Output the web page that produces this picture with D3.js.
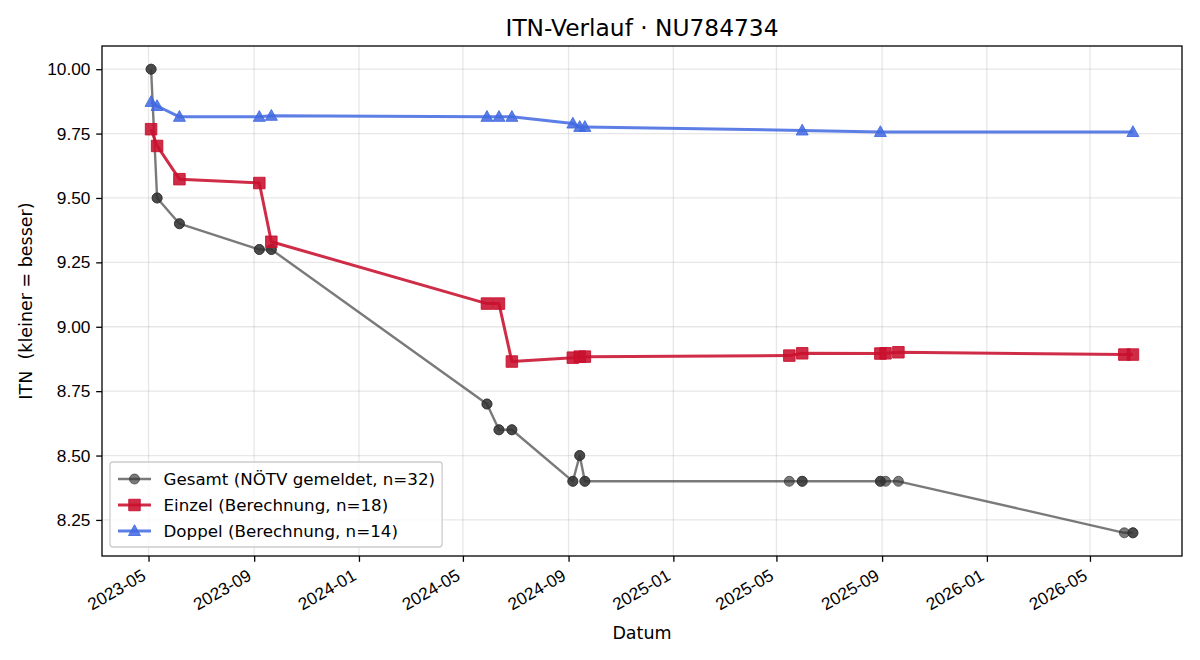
<!DOCTYPE html>
<html>
<head>
<meta charset="utf-8">
<script src="https://cdn.jsdelivr.net/npm/d3@7"></script>
<style>
  body { margin: 0; background: #fff; }
  svg { font-family: "DejaVu Sans", sans-serif; }
</style>
</head>
<body>
<svg id="chart" width="1200" height="660"></svg>
<script>
// data
var gesamtDates = ["2023-05-04","2023-05-04","2023-05-11","2023-05-11","2023-06-06","2023-06-06",
    "2023-09-07","2023-09-07","2023-09-21","2023-09-21","2024-05-29","2024-05-29",
    "2024-06-12","2024-06-12","2024-06-27","2024-06-27","2024-09-06","2024-09-06",
    "2024-09-14","2024-09-14","2024-09-20","2024-09-20","2025-05-16","2025-05-31","2025-05-31",
    "2025-08-30","2025-08-30","2025-09-05","2025-09-20","2026-06-10","2026-06-20","2026-06-20"];
var gesamtValues = [10.0,10.0,9.5,9.5,9.4,9.4,9.3,9.3,9.3,9.3,8.7,8.7,8.6,8.6,8.6,8.6,8.4,8.4,
    8.5,8.5,8.4,8.4,8.4,8.4,8.4,8.4,8.4,8.4,8.4,8.2,8.2,8.2];

var einzelDates = ["2023-05-04","2023-05-11","2023-06-06","2023-09-07","2023-09-21","2024-05-29",
    "2024-06-12","2024-06-27","2024-09-06","2024-09-14","2024-09-20","2025-05-16","2025-05-31",
    "2025-08-30","2025-09-05","2025-09-20","2026-06-10","2026-06-20"];
var einzelValues = [9.767,9.702,9.573,9.558,9.330,9.090,9.090,8.865,8.880,8.884,8.884,8.888,8.897,
    8.896,8.897,8.901,8.892,8.892];

var doppelDates = ["2023-05-04","2023-05-11","2023-06-06","2023-09-07","2023-09-21","2024-05-29",
    "2024-06-12","2024-06-27","2024-09-06","2024-09-14","2024-09-20","2025-05-31","2025-08-30",
    "2026-06-20"];
var doppelValues = [9.873,9.857,9.815,9.815,9.819,9.815,9.815,9.815,9.789,9.776,9.776,9.762,9.756,9.756];

var xTickLabels = ["2023-05","2023-09","2024-01","2024-05","2024-09","2025-01","2025-05","2025-09","2026-01","2026-05"];
var yTickValues = [8.25, 8.50, 8.75, 9.00, 9.25, 9.50, 9.75, 10.00];

var labels = ["Gesamt (NÖTV gemeldet, n=32)", "Einzel (Berechnung, n=18)", "Doppel (Berechnung, n=14)"];

var parse = d3.timeParse("%Y-%m-%d");
var parseMonth = d3.timeParse("%Y-%m");

function zip(ds, vs) {
    return ds.map(function(d, i) { return {date: parse(d), value: vs[i]}; });
}

var series = [
    {name: labels[0], data: zip(gesamtDates, gesamtValues), color: "#333333", alpha: 0.65, lw: 2.4, marker: "circle", size: 10},
    {name: labels[1], data: zip(einzelDates, einzelValues), color: "#c8102e", alpha: 0.88, lw: 3, marker: "square", size: 11.5},
    {name: labels[2], data: zip(doppelDates, doppelValues), color: "#4169e1", alpha: 0.85, lw: 3, marker: "triangle", size: 12}
];

var m = {left: 102, right: 1182, top: 46, bottom: 556};
var svg = d3.select("#chart");

// matplotlib style 5% margins
var allDates = series[0].data.map(function(d) { return d.date; });
var dmin = d3.min(allDates), dmax = d3.max(allDates);
var pad = (dmax - dmin) * 0.05;
var x = d3.scaleTime()
    .domain([new Date(+dmin - pad), new Date(+dmax + pad)])
    .range([m.left, m.right]);

var vmin = 8.2, vmax = 10.0, vpad = (vmax - vmin) * 0.05;
var y = d3.scaleLinear()
    .domain([vmin - vpad, vmax + vpad])
    .range([m.bottom, m.top]);

var xTicks = xTickLabels.map(function(s) { return parseMonth(s); });

// grid
var grid = svg.append("g");
grid.selectAll(".gx").data(xTicks).enter().append("line")
    .attr("x1", function(d) { return x(d); }).attr("x2", function(d) { return x(d); })
    .attr("y1", m.top).attr("y2", m.bottom)
    .attr("stroke", "#b0b0b0").attr("stroke-opacity", 0.3).attr("stroke-width", 1.3);
grid.selectAll(".gy").data(yTickValues).enter().append("line")
    .attr("x1", m.left).attr("x2", m.right)
    .attr("y1", function(d) { return y(d); }).attr("y2", function(d) { return y(d); })
    .attr("stroke", "#b0b0b0").attr("stroke-opacity", 0.3).attr("stroke-width", 1.3);

// axes
var tickFs = "17.3px";
var xAxis = svg.append("g")
    .attr("transform", "translate(0," + m.bottom + ")")
    .call(d3.axisBottom(x).tickValues(xTicks).tickSize(5.8).tickPadding(5.8).tickFormat(d3.timeFormat("%Y-%m")));
xAxis.select(".domain").remove();
xAxis.selectAll("line").attr("stroke", "#000").attr("stroke-width", 1.3);
xAxis.selectAll("text")
    .attr("font-size", tickFs).attr("fill", "#000")
    .attr("text-anchor", "end")
    .attr("dy", null)
    .attr("y", null)
    .attr("transform", "translate(-2,23) rotate(-30)");

var yAxis = svg.append("g")
    .attr("transform", "translate(" + m.left + ",0)")
    .call(d3.axisLeft(y).tickValues(yTickValues).tickSize(5.8).tickPadding(5.8).tickFormat(d3.format(".2f")));
yAxis.select(".domain").remove();
yAxis.selectAll("line").attr("stroke", "#000").attr("stroke-width", 1.3);
yAxis.selectAll("text").attr("font-size", tickFs).attr("fill", "#000");

// series
var line = d3.line()
    .x(function(d) { return x(d.date); })
    .y(function(d) { return y(d.value); });

function markerPath(type, s) {
    if (type === "circle") return d3.symbol().type(d3.symbolCircle).size(Math.PI * s * s / 4)();
    if (type === "square") return "M" + (-s/2) + "," + (-s/2) + "h" + s + "v" + s + "h" + (-s) + "Z";
    var r = s / 2;
    return "M0," + (-r * 1.05) + "L" + (r) + "," + (r * 0.75) + "L" + (-r) + "," + (r * 0.75) + "Z";
}

var plot = svg.append("g");
series.forEach(function(s) {
    var g = plot.append("g");
    g.append("path")
        .datum(s.data)
        .attr("d", line)
        .attr("fill", "none")
        .attr("stroke", s.color)
        .attr("stroke-opacity", s.alpha)
        .attr("stroke-width", s.lw)
        .attr("stroke-linejoin", "round");
    g.selectAll(".pt").data(s.data).enter().append("path")
        .attr("d", markerPath(s.marker, s.size))
        .attr("transform", function(d) { return "translate(" + x(d.date) + "," + y(d.value) + ")"; })
        .attr("fill", s.color)
        .attr("fill-opacity", s.alpha)
        .attr("stroke", s.color)
        .attr("stroke-opacity", s.alpha)
        .attr("stroke-width", 1);
});

// frame
svg.append("rect")
    .attr("x", m.left).attr("y", m.top)
    .attr("width", m.right - m.left).attr("height", m.bottom - m.top)
    .attr("fill", "none").attr("stroke", "#000").attr("stroke-width", 1.3);

// titles
svg.append("text")
    .attr("x", (m.left + m.right) / 2).attr("y", 36)
    .attr("text-anchor", "middle")
    .attr("font-size", "23.3px")
    .text("ITN-Verlauf · NU784734");

svg.append("text")
    .attr("x", (m.left + m.right) / 2).attr("y", 639)
    .attr("text-anchor", "middle")
    .attr("font-size", "17.5px")
    .text("Datum");

svg.append("text")
    .attr("transform", "translate(32," + ((m.top + m.bottom) / 2) + ") rotate(-90)")
    .attr("text-anchor", "middle")
    .attr("font-size", "17.5px")
    .attr("xml:space", "preserve")
    .style("white-space", "pre")
    .text("ITN  (kleiner = besser)");

// legend
var fs = 16.7;
var leg = svg.append("g");
var box = leg.append("rect")
    .attr("x", 110).attr("y", 462)
    .attr("rx", 3).attr("ry", 3)
    .attr("fill", "#fff").attr("fill-opacity", 0.8)
    .attr("stroke", "#cccccc").attr("stroke-width", 1.3);

var maxw = 0;
series.forEach(function(s, i) {
    var cy = 479 + i * 26;
    leg.append("line")
        .attr("x1", 118).attr("x2", 151)
        .attr("y1", cy).attr("y2", cy)
        .attr("stroke", s.color).attr("stroke-opacity", s.alpha).attr("stroke-width", s.lw);
    leg.append("path")
        .attr("d", markerPath(s.marker, s.size))
        .attr("transform", "translate(134.5," + cy + ")")
        .attr("fill", s.color).attr("fill-opacity", s.alpha)
        .attr("stroke", s.color).attr("stroke-opacity", s.alpha).attr("stroke-width", 1);
    var t = leg.append("text")
        .attr("x", 163.5).attr("y", cy)
        .attr("dy", "0.35em")
        .attr("font-size", fs + "px")
        .text(s.name);
    maxw = Math.max(maxw, t.node().getComputedTextLength());
});
box.attr("width", 163.5 + maxw + 7 - 110).attr("height", 547 - 462);
</script>
</body>
</html>
